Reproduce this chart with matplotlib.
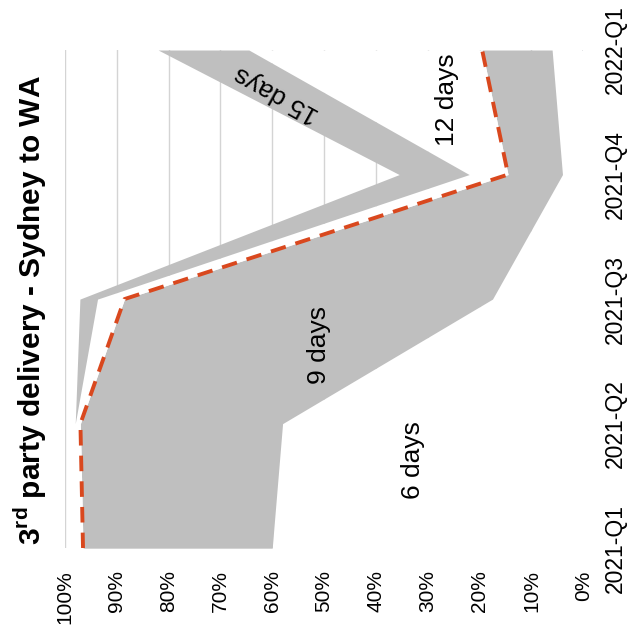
import numpy as np
import matplotlib.pyplot as plt

plt.rcParams['font.family'] = ['Liberation Sans', 'DejaVu Sans']
plt.rcParams['mathtext.fontset'] = 'custom'
plt.rcParams['mathtext.rm'] = 'Liberation Sans:bold'

# Share of deliveries (%) per delivery time, stacked
quarters = ['2021-Q1', '2021-Q2', '2021-Q3', '2021-Q4', '2022-Q1']
days_6 = [60.0, 58.0, 17.5, 4.0, 6.0]
days_9 = [36.5, 39.0, 71.0, 10.5, 13.5]
days_12 = [2.0, 1.0, 5.2, 7.5, 45.0]
days_15 = [0.0, 0.0, 3.4, 13.5, 17.5]
pct_ticks = [0, 10, 20, 30, 40, 50, 60, 70, 80, 90, 100]

grey = '#bfbfbf'
series = [('6 days', days_6, 'white'),
          ('9 days', days_9, grey),
          ('12 days', days_12, 'white'),
          ('15 days', days_15, grey)]

fig = plt.figure(figsize=(6.36, 6.33), dpi=100)
ax = fig.add_axes([0.102, 0.134, 0.815, 0.787])

pos = np.arange(len(quarters))
base = np.zeros(len(quarters))
tops = {}
for name, vals, col in series:
    top = base + np.array(vals)
    ax.fill_betweenx(pos, base, top, color=col, lw=0, zorder=2)
    tops[name] = top
    base = top

# on-time line along the top of the 9 day band
ax.plot(tops['9 days'], pos, color='#d9481e', lw=2.8, ls=(0, (4, 2.6)), zorder=4)

ax.set_xlim(100, 0)
ax.set_ylim(0, len(quarters) - 1)

ax.set_xticks(pct_ticks)
ax.set_xticklabels([f'{v}%' for v in pct_ticks], rotation=90, fontsize=15)
ax.set_yticks(pos)
ax.set_yticklabels(quarters, rotation=90, va='center', fontsize=16.5)
ax.yaxis.tick_right()
ax.tick_params(axis='x', length=0, pad=16)
ax.tick_params(axis='y', length=0, pad=15)

ax.grid(axis='x', color='#d4d4d4', lw=1, zorder=1)
ax.set_axisbelow(True)
for s in ax.spines.values():
    s.set_visible(False)
ax.axvline(0, color='#c4c8cc', lw=1.2, zorder=1)

kw = dict(fontsize=19, ha='center', va='center', zorder=5)
ax.text(32.8, 0.71, '6 days', rotation=90, **kw)
ax.text(51, 1.63, '9 days', rotation=90, **kw)
ax.text(26.2, 3.6, '12 days', rotation=90, **kw)
ax.text(59.2, 3.65, '15 days', rotation=151, **kw)

fig.text(0.047, 0.51, r'3$^{\mathrm{rd}}$ party delivery - Sydney to WA',
         rotation=90, fontsize=21.5, fontweight='bold', ha='center', va='center')

fig.savefig('out.png', dpi=100)
